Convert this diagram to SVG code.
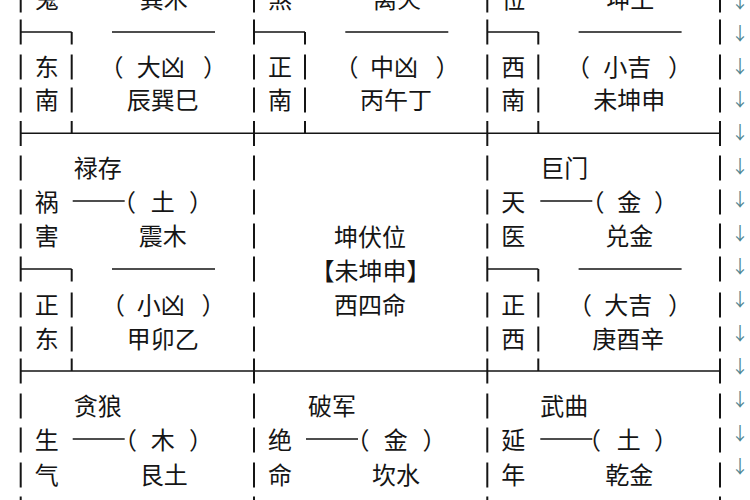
<svg xmlns="http://www.w3.org/2000/svg" width="750" height="500" viewBox="0 0 750 500">
<style>
.t{font-family:"Noto Sans CJK SC","Noto Sans CJK TC",sans-serif;font-size:24px;fill:#151515;text-anchor:middle}
.a{font-family:"Noto Sans CJK SC",sans-serif;font-size:18px;fill:#4f8591;text-anchor:middle}
.v{stroke:#151515;stroke-width:2;fill:none}
.h{stroke:#151515;stroke-width:1.6;fill:none}
</style>
<rect width="750" height="500" fill="#ffffff"/>
<g id="grid">
<path class="v" d="M20.7,-12.5V12.5M20.7,19.5V44.5M20.7,54.5V79.5M20.7,87.5V112.5M20.7,121V146M20.7,155.5V180.5M20.7,189.5V214.5M20.7,223.5V248.5M20.7,256.5V281.5M20.7,292.5V317.5M20.7,326.5V351.5M20.7,358.5V383.5M20.7,393.5V418.5M20.7,427.5V452.5M20.7,462.5V487.5M20.7,496.5V521.5"/>
<path class="v" d="M254,-12.5V12.5M254,19.5V44.5M254,54.5V79.5M254,87.5V112.5M254,121V146M254,155.5V180.5M254,189.5V214.5M254,223.5V248.5M254,256.5V281.5M254,292.5V317.5M254,326.5V351.5M254,358.5V383.5M254,393.5V418.5M254,427.5V452.5M254,462.5V487.5M254,496.5V521.5"/>
<path class="v" d="M487.3,-12.5V12.5M487.3,19.5V44.5M487.3,54.5V79.5M487.3,87.5V112.5M487.3,121V146M487.3,155.5V180.5M487.3,189.5V214.5M487.3,223.5V248.5M487.3,256.5V281.5M487.3,292.5V317.5M487.3,326.5V351.5M487.3,358.5V383.5M487.3,393.5V418.5M487.3,427.5V452.5M487.3,462.5V487.5M487.3,496.5V521.5"/>
<path class="v" d="M720,-12.5V12.5M720,19.5V44.5M720,54.5V79.5M720,87.5V112.5M720,121V146M720,155.5V180.5M720,189.5V214.5M720,223.5V248.5M720,256.5V281.5M720,292.5V317.5M720,326.5V351.5M720,358.5V383.5M720,393.5V418.5M720,427.5V452.5M720,462.5V487.5M720,496.5V521.5"/>
<path class="v" d="M71.7,32V44.5M71.7,54.5V79.5M71.7,87.5V112.5M71.7,121V133.3M305,32V44.5M305,54.5V79.5M305,87.5V112.5M305,121V133.3M538.3,32V44.5M538.3,54.5V79.5M538.3,87.5V112.5M538.3,121V133.3"/>
<path class="v" d="M71.7,269V281.5M71.7,292.5V317.5M71.7,326.5V351.5M71.7,358.5V371M538.3,269V281.5M538.3,292.5V317.5M538.3,326.5V351.5M538.3,358.5V371"/>
<path class="h" d="M20.7,32H71.7M112,32H215M254,32H305M345.3,32H448.3M487.3,32H538.3M578.6,32H681.6"/>
<path class="h" d="M20.7,133.3H720M20.7,371H720"/>
<path class="h" d="M20.7,269H71.7M112,269H215M487.3,269H538.3M578.6,269H681.6"/>
<path class="h" d="M72.7,201H124.7M540.3,201H592.3M72.7,439H124.7M306,439H358M540.3,439H592.3"/>
</g>
<g id="cell-se">
<text class="t" x="46.7" y="8">鬼</text><text class="t" x="163.7" y="8">巽木</text>
<text class="t" x="46.7" y="76">东</text><text class="t" x="111.5" y="76">（</text><text class="t" x="160.7" y="76">大凶</text><text class="t" x="215" y="76">）</text>
<text class="t" x="46.7" y="109">南</text><text class="t" x="162.7" y="109">辰巽巳</text>
</g>
<g id="cell-s">
<text class="t" x="280" y="8">煞</text><text class="t" x="397" y="8">离火</text>
<text class="t" x="280" y="76">正</text><text class="t" x="346.5" y="76">（</text><text class="t" x="394" y="76">中凶</text><text class="t" x="447.5" y="76">）</text>
<text class="t" x="280" y="109">南</text><text class="t" x="396" y="109">丙午丁</text>
</g>
<g id="cell-sw">
<text class="t" x="513.3" y="8">位</text><text class="t" x="630.3" y="8">坤土</text>
<text class="t" x="513.3" y="76">西</text><text class="t" x="578" y="76">（</text><text class="t" x="627.3" y="76">小吉</text><text class="t" x="680" y="76">）</text>
<text class="t" x="513.3" y="109">南</text><text class="t" x="629.3" y="109">未坤申</text>
</g>
<g id="cell-e">
<text class="t" x="97.7" y="177">禄存</text>
<text class="t" x="46.7" y="211">祸</text><text class="t" x="124" y="211">（</text><text class="t" x="162.7" y="211">土</text><text class="t" x="201" y="211">）</text>
<text class="t" x="46.7" y="245">害</text><text class="t" x="162.7" y="245">震木</text>
<text class="t" x="46.7" y="314">正</text><text class="t" x="113" y="314">（</text><text class="t" x="160.7" y="314">小凶</text><text class="t" x="213.5" y="314">）</text>
<text class="t" x="46.7" y="348">东</text><text class="t" x="162.7" y="348">甲卯乙</text>
</g>
<g id="cell-center">
<text class="t" x="370" y="245.5">坤伏位</text>
<text class="t" x="370.5" y="280">【未坤申】</text>
<text class="t" x="370" y="314">西四命</text>
</g>
<g id="cell-w">
<text class="t" x="564.3" y="177">巨门</text>
<text class="t" x="513.3" y="211">天</text><text class="t" x="592.5" y="211">（</text><text class="t" x="629.3" y="211">金</text><text class="t" x="666" y="211">）</text>
<text class="t" x="513.3" y="245">医</text><text class="t" x="629.3" y="245">兑金</text>
<text class="t" x="513.3" y="314">正</text><text class="t" x="580" y="314">（</text><text class="t" x="628.3" y="314">大吉</text><text class="t" x="680" y="314">）</text>
<text class="t" x="513.3" y="348">西</text><text class="t" x="628.3" y="348">庚酉辛</text>
</g>
<g id="cell-ne">
<text class="t" x="97.7" y="415">贪狼</text>
<text class="t" x="46.7" y="449">生</text><text class="t" x="125" y="449">（</text><text class="t" x="162.7" y="449">木</text><text class="t" x="201" y="449">）</text>
<text class="t" x="46.7" y="484">气</text><text class="t" x="163.7" y="484">艮土</text>
</g>
<g id="cell-n">
<text class="t" x="332" y="415">破军</text>
<text class="t" x="280" y="449">绝</text><text class="t" x="357.5" y="449">（</text><text class="t" x="395.7" y="449">金</text><text class="t" x="434.5" y="449">）</text>
<text class="t" x="280" y="484">命</text><text class="t" x="396" y="484">坎水</text>
</g>
<g id="cell-nw">
<text class="t" x="564.3" y="415">武曲</text>
<text class="t" x="513.3" y="449">延</text><text class="t" x="589" y="449">（</text><text class="t" x="628.8" y="449">土</text><text class="t" x="666" y="449">）</text>
<text class="t" x="513.3" y="484">年</text><text class="t" x="629.3" y="484">乾金</text>
</g>
<g id="marks">
<text class="a" x="740" y="8">↓</text><text class="a" x="740" y="40">↓</text><text class="a" x="740" y="73">↓</text><text class="a" x="740" y="106">↓</text><text class="a" x="740" y="139">↓</text><text class="a" x="740" y="173">↓</text><text class="a" x="740" y="206">↓</text><text class="a" x="740" y="240">↓</text><text class="a" x="740" y="273">↓</text><text class="a" x="740" y="306">↓</text><text class="a" x="740" y="340">↓</text><text class="a" x="740" y="373">↓</text><text class="a" x="740" y="406">↓</text><text class="a" x="740" y="440">↓</text><text class="a" x="740" y="473">↓</text>
</g>
</svg>
